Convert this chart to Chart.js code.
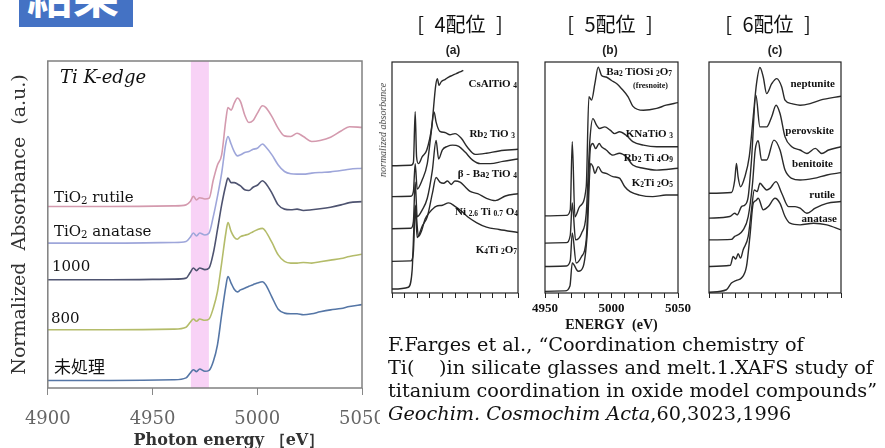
<!DOCTYPE html>
<html>
<head>
<meta charset="utf-8">
<script src="https://cdn.jsdelivr.net/npm/chart.js@4.4.1/dist/chart.umd.min.js"></script>
<style>
body { margin: 0; width: 885px; height: 448px; background: #fff; position: relative; overflow: hidden; }
.abs { position: absolute; white-space: nowrap; line-height: 1; }
.mid { transform: translateY(-50%); }
.ctr { transform: translate(-50%, -50%); }
.ser { font-family: 'DejaVu Serif', serif; }
.tms { font-family: 'Liberation Serif', serif; font-weight: bold; color: #111; }
.hdr { font-family: 'Noto Sans CJK JP', sans-serif; font-size: 20px; word-spacing: 6px; color: #111; }
.pl { font-family: 'Liberation Sans', sans-serif; font-weight: bold; font-size: 12px; color: #222; }
sub { font-size: 0.68em; vertical-align: -0.25em; line-height: 0; }
.jp { font-family: 'Noto Sans CJK JP', sans-serif; }
</style>
</head>
<body>
<div style="position:absolute;left:0;top:0;width:380px;height:448px;overflow:hidden;">
  <canvas id="main" width="400" height="450"></canvas>
</div>
<canvas id="pa" width="158" height="280" style="position:absolute;left:376px;top:55px;"></canvas>
<canvas id="pb" width="165" height="280" style="position:absolute;left:529px;top:55px;"></canvas>
<canvas id="pc" width="164" height="280" style="position:absolute;left:693px;top:55px;"></canvas>

<div style="position:absolute;left:19px;top:0;width:114px;height:27px;background:#4472c4;overflow:hidden;">
  <div class="abs jp" style="left:8px;top:-30px;font-size:46px;font-weight:bold;color:#fff;">結果</div>
</div>

<div class="abs ser" style="left:60px;top:77px;transform:translateY(-50%);font-size:18px;font-style:italic;color:#111;">Ti K-edge</div>
<div class="abs ser mid" style="left:54px;top:197px;font-size:15px;color:#111;">TiO<sub>2</sub> rutile</div>
<div class="abs ser mid" style="left:54px;top:231px;font-size:15px;color:#111;">TiO<sub>2</sub> anatase</div>
<div class="abs ser mid" style="left:52px;top:266px;font-size:15px;color:#111;">1000</div>
<div class="abs ser mid" style="left:51px;top:318px;font-size:15px;color:#111;">800</div>
<div class="abs jp mid" style="left:54px;top:365px;font-size:17px;color:#111;">未処理</div>

<div class="abs hdr ctr" style="left:460px;top:24px;">[ 4配位 ]</div>
<div class="abs hdr ctr" style="left:610px;top:24px;">[ 5配位 ]</div>
<div class="abs hdr ctr" style="left:768px;top:24px;">[ 6配位 ]</div>
<div class="abs pl ctr" style="left:453px;top:50px;">(a)</div>
<div class="abs pl ctr" style="left:610px;top:50px;">(b)</div>
<div class="abs pl ctr" style="left:775px;top:50px;">(c)</div>
<div class="abs" style="left:383px;top:130px;transform:translate(-50%,-50%) rotate(-90deg);font-family:'Liberation Serif',serif;font-style:italic;font-size:10px;color:#444;">normalized absorbance</div>

<div class="abs tms mid" style="right:368px;top:83px;font-size:11px;">CsAlTiO <sub>4</sub></div>
<div class="abs tms mid" style="right:370px;top:133px;font-size:11px;">Rb<sub>2</sub> TiO <sub>3</sub></div>
<div class="abs tms mid" style="right:368px;top:173px;font-size:11px;">β - Ba<sub>2</sub> TiO <sub>4</sub></div>
<div class="abs tms mid" style="right:367px;top:211px;font-size:11px;">Ni <sub>2.6</sub> Ti <sub>0.7</sub> O<sub>4</sub></div>
<div class="abs tms mid" style="right:368px;top:249px;font-size:11px;">K<sub>4</sub>Ti <sub>2</sub>O<sub>7</sub></div>

<div class="abs tms mid" style="right:213px;top:71px;font-size:11px;">Ba<sub>2</sub> TiOSi <sub>2</sub>O<sub>7</sub></div>
<div class="abs tms mid" style="right:217px;top:86px;font-size:8px;">(fresnoite)</div>
<div class="abs tms mid" style="right:212px;top:133px;font-size:11px;">KNaTiO <sub>3</sub></div>
<div class="abs tms mid" style="right:212px;top:157px;font-size:11px;">Rb<sub>2</sub> Ti <sub>4</sub>O<sub>9</sub></div>
<div class="abs tms mid" style="right:212px;top:182px;font-size:11px;">K<sub>2</sub>Ti <sub>2</sub>O<sub>5</sub></div>

<div class="abs tms mid" style="right:50px;top:83px;font-size:11px;">neptunite</div>
<div class="abs tms mid" style="right:51px;top:130px;font-size:11px;">perovskite</div>
<div class="abs tms mid" style="right:52px;top:163px;font-size:11px;">benitoite</div>
<div class="abs tms mid" style="right:50px;top:194px;font-size:11px;">rutile</div>
<div class="abs tms mid" style="right:48px;top:218px;font-size:11px;">anatase</div>

<div class="abs ser" style="left:388px;top:333px;font-size:19.3px;line-height:23px;color:#111;">
F.Farges et al., “Coordination chemistry of<br>
Ti(&nbsp;&nbsp;&nbsp;&nbsp;)in silicate glasses and melt.1.XAFS study of<br>
titanium coordination in oxide model compounds”<br>
<i>Geochim. Cosmochim Acta</i>,60,3023,1996
</div>

<script>
// main spectra (Ti K-edge), shared energy grid, normalized absorbance in a.u. (stacked)
const energy = [4900, 4930, 4960, 4966, 4968, 4969.5, 4971, 4972.5, 4975, 4977, 4979, 4981, 4983, 4985, 4986, 4987.5, 4989, 4990.5, 4992, 4994, 4996, 4998, 5000, 5002.5, 5004, 5007, 5010, 5013, 5016, 5019, 5022, 5026, 5030, 5035, 5040, 5044, 5050];
const rutile  = [5.55, 5.55, 5.57, 5.60, 5.70, 5.86, 5.75, 5.82, 5.78, 5.80, 6.36, 6.82, 7.13, 8.20, 8.58, 8.50, 8.71, 8.87, 8.76, 8.35, 8.12, 8.18, 8.40, 8.63, 8.58, 8.30, 7.94, 7.71, 7.69, 7.79, 7.69, 7.54, 7.57, 7.67, 7.86, 7.99, 7.97];
const anatase = [4.43, 4.43, 4.45, 4.48, 4.61, 4.74, 4.65, 4.74, 4.68, 4.74, 5.24, 5.86, 6.57, 7.48, 7.69, 7.46, 7.23, 7.10, 7.13, 7.20, 7.23, 7.30, 7.33, 7.46, 7.38, 7.13, 6.82, 6.62, 6.55, 6.54, 6.54, 6.57, 6.59, 6.61, 6.65, 6.69, 6.72];
const t1000   = [3.31, 3.31, 3.33, 3.36, 3.53, 3.67, 3.59, 3.67, 3.62, 3.67, 4.12, 4.84, 5.60, 6.21, 6.42, 6.28, 6.28, 6.24, 6.18, 6.06, 6.04, 6.14, 6.20, 6.34, 6.26, 5.96, 5.60, 5.47, 5.45, 5.47, 5.43, 5.45, 5.48, 5.53, 5.60, 5.67, 5.70];
const t800    = [1.78, 1.78, 1.80, 1.86, 2.01, 2.11, 2.04, 2.11, 2.07, 2.11, 2.44, 2.95, 3.82, 4.74, 5.06, 4.79, 4.61, 4.55, 4.63, 4.67, 4.71, 4.78, 4.84, 4.88, 4.79, 4.45, 4.07, 3.87, 3.82, 3.82, 3.84, 3.82, 3.86, 3.91, 3.96, 4.02, 4.09];
const untreated = [0.23, 0.23, 0.25, 0.31, 0.46, 0.56, 0.50, 0.58, 0.51, 0.54, 0.81, 1.32, 2.24, 3.11, 3.41, 3.21, 3.02, 2.94, 3.00, 3.05, 3.11, 3.16, 3.21, 3.25, 3.16, 2.78, 2.41, 2.29, 2.27, 2.27, 2.24, 2.27, 2.33, 2.39, 2.43, 2.49, 2.55];
const preEdgeBand = [4968.3, 4976.9];

// Farges et al. (a) 4-coordinated
const csAlE = [4950, 4965, 4967, 4968.4, 4969.5, 4971, 4974, 4977.6, 4981.5, 4984.7, 4986, 4987.3, 4989, 4992, 4995, 4998, 5001, 5004, 5006.6];
const csAlA = [5.51, 5.53, 5.65, 7.85, 5.90, 5.60, 5.90, 6.19, 7.19, 8.99, 9.28, 8.99, 9.14, 9.24, 9.35, 9.42, 9.50, 9.57, 9.64];
const rb2TiO3E = [4950, 4965, 4967, 4968.4, 4970, 4974, 4978, 4981, 4983.4, 4985, 4988, 4992, 4996, 5000, 5005, 5010, 5016, 5025, 5035, 5050];
const rb2TiO3A = [4.17, 4.19, 4.40, 5.60, 4.50, 4.90, 5.60, 6.90, 7.84, 7.40, 7.00, 6.95, 6.85, 6.90, 6.70, 6.30, 6.00, 6.05, 6.15, 6.22];
const ba2TiO4E = [4950, 4965, 4967, 4968.4, 4970, 4974, 4978, 4982, 4985, 4987, 4990, 4994, 4998, 5003, 5008, 5014, 5020, 5028, 5038, 5050];
const ba2TiO4A = [2.78, 2.80, 3.10, 4.80, 3.30, 3.60, 4.10, 5.30, 6.60, 5.80, 6.20, 6.35, 6.40, 6.35, 6.10, 5.75, 5.60, 5.60, 5.70, 5.80];
const niTiE = [4950, 4965, 4967, 4968.4, 4970, 4974, 4978, 4982, 4985, 4988, 4991, 4994, 4997, 5000, 5004, 5008, 5012, 5018, 5025, 5032, 5040, 5050];
const niTiA = [1.37, 1.39, 1.80, 3.70, 2.40, 2.90, 3.30, 4.30, 5.00, 4.80, 4.75, 4.85, 4.70, 4.85, 4.80, 4.60, 4.40, 4.30, 4.10, 4.00, 4.20, 4.30];
const k4Ti2O7E = [4950, 4963, 4966, 4968.4, 4971, 4973.7, 4976.3, 4980, 4985, 4990, 4995, 5000, 5005, 5010, 5017, 5025, 5035, 5050];
const k4Ti2O7A = [0.17, 0.25, 1.00, 3.80, 2.45, 2.73, 3.20, 3.50, 3.75, 3.80, 3.90, 3.75, 3.55, 3.30, 3.05, 2.85, 2.75, 2.62];

// (b) 5-coordinated
const fresE = [4950, 4966, 4969, 4970.5, 4972.5, 4976, 4981, 4983, 4985, 4987.5, 4990, 4992.5, 4996, 5000, 5004, 5007.5, 5012.5, 5016, 5024, 5034, 5041, 5050];
const fresA = [3.34, 3.36, 3.60, 6.55, 3.30, 3.74, 4.60, 8.50, 8.35, 9.06, 9.78, 9.42, 9.35, 9.20, 9.06, 8.85, 8.49, 8.09, 7.91, 7.99, 8.13, 8.24];
const knaE = [4950, 4966, 4969, 4970.5, 4973, 4977.5, 4981, 4983.75, 4986, 4988.75, 4991, 4995, 4999, 5002.5, 5006, 5011, 5016, 5024, 5034, 5050];
const knaA = [2.16, 2.18, 2.50, 3.90, 2.30, 2.59, 3.45, 6.62, 7.55, 7.27, 7.12, 7.19, 7.05, 6.90, 6.98, 6.83, 6.55, 6.40, 6.33, 6.33];
const rb2Ti4O9E = [4950, 4966, 4969, 4970.5, 4973.5, 4977.5, 4981, 4984.25, 4986, 4988, 4990.75, 4992.5, 4996, 5001, 5006, 5011, 5016, 5024, 5034, 5050];
const rb2Ti4O9A = [1.15, 1.17, 1.40, 2.60, 1.30, 1.58, 2.30, 6.33, 6.47, 6.25, 6.47, 6.33, 6.19, 5.97, 6.05, 5.90, 5.54, 5.40, 5.32, 5.40];
const k2Ti2O5E = [4950, 4965, 4968.75, 4970.5, 4975, 4978.75, 4981.75, 4984.25, 4986, 4987.5, 4990, 4992.5, 4996, 5001, 5006, 5010, 5014, 5021, 5031, 5041, 5050];
const k2Ti2O5A = [0.07, 0.09, 0.30, 1.30, 0.94, 1.15, 2.59, 5.61, 5.47, 5.18, 5.47, 5.25, 5.18, 5.04, 4.97, 4.60, 4.39, 4.24, 4.17, 4.24, 4.24];

// (c) 6-coordinated
const neptE = [4950, 4967, 4969.5, 4970.8, 4972, 4973.9, 4977.2, 4980.5, 4983.5, 4986, 4988.6, 4991.1, 4993.7, 4997.5, 5001.3, 5005.1, 5007.6, 5012.7, 5019, 5026.6, 5034.3, 5050];
const neptA = [4.32, 4.35, 4.89, 5.61, 5.04, 4.60, 5.04, 5.90, 7.63, 9.06, 9.76, 9.35, 8.63, 9.06, 9.28, 8.92, 8.35, 8.20, 8.13, 8.20, 8.35, 8.52];
const perovE = [4950, 4965.7, 4969.5, 4971.3, 4974.6, 4977.2, 4979.7, 4982.2, 4985.5, 4988.6, 4993.7, 4997.5, 5000.8, 5003.8, 5007.6, 5012.7, 5019, 5024.1, 5030.5, 5035.5, 5040.6, 5050];
const perovA = [3.24, 3.31, 3.45, 3.38, 3.74, 3.81, 4.17, 5.76, 8.56, 7.19, 7.19, 7.63, 8.13, 7.77, 6.76, 6.33, 6.19, 6.04, 6.26, 6.04, 6.19, 6.33];
const beniE = [4950, 4967, 4969.5, 4972, 4975.9, 4979.7, 4983, 4985, 4987.3, 4989.8, 4993.7, 4999.2, 5003.8, 5007.6, 5012.7, 5019, 5029.2, 5039.3, 5050];
const beniA = [2.30, 2.32, 2.45, 2.52, 2.73, 3.31, 4.75, 6.19, 6.59, 5.76, 5.76, 6.62, 6.19, 5.32, 4.96, 4.89, 4.96, 5.11, 5.21];
const rutE = [4950, 4966.2, 4968.3, 4970.3, 4972.1, 4973.9, 4975.9, 4979.7, 4982.2, 4984.3, 4986.5, 4988.6, 4991.1, 4993.7, 4996.2, 5000.8, 5005.1, 5010.2, 5015.2, 5019, 5024.1, 5030.5, 5039.3, 5050];
const rutA = [1.15, 1.20, 1.58, 1.47, 1.70, 1.51, 1.87, 2.45, 3.60, 4.46, 4.39, 4.75, 4.60, 4.46, 4.53, 4.82, 4.32, 3.74, 3.74, 3.67, 3.45, 3.67, 3.88, 3.96];
const anaE = [4950, 4963.2, 4967, 4970.8, 4974.6, 4978.4, 4981, 4983.5, 4985.5, 4987.3, 4991.1, 4994.9, 5000, 5003.8, 5007.6, 5011.4, 5019, 5029.2, 5039.3, 5050];
const anaA = [0.03, 0.14, 0.43, 0.55, 0.65, 1.15, 2.45, 3.88, 4.00, 4.10, 3.60, 3.74, 4.10, 3.88, 3.31, 3.02, 2.95, 3.02, 2.95, 2.73];

function series(label, xs, ys, color, width) {
    return {
        label: label,
        data: xs.map(function(x, i) { return { x: x, y: ys[i] }; }),
        borderColor: color,
        borderWidth: width,
        pointRadius: 0,
        fill: false,
        cubicInterpolationMode: 'monotone'
    };
}

// frame round the plot area and optional shaded energy band
const frameBand = {
    id: 'frameBand',
    beforeDatasetsDraw: function(chart, args, opts) {
        if (!opts.band) return;
        var a = chart.chartArea, x = chart.scales.x, ctx = chart.ctx;
        var x0 = x.getPixelForValue(opts.band[0]), x1 = x.getPixelForValue(opts.band[1]);
        ctx.save();
        ctx.fillStyle = opts.bandColor;
        ctx.fillRect(x0, a.top, x1 - x0, a.bottom - a.top);
        ctx.restore();
    },
    afterDatasetsDraw: function(chart, args, opts) {
        var a = chart.chartArea, ctx = chart.ctx;
        ctx.save();
        ctx.strokeStyle = opts.color;
        ctx.lineWidth = opts.width;
        ctx.strokeRect(a.left, a.top, a.right - a.left, a.bottom - a.top);
        ctx.restore();
    }
};
Chart.register(frameBand);

new Chart(document.getElementById('main'), {
    type: 'line',
    data: {
        datasets: [
            series('TiO2 rutile', energy, rutile, '#d49aae', 1.6),
            series('TiO2 anatase', energy, anatase, '#9ea6da', 1.6),
            series('1000', energy, t1000, '#4e5370', 1.6),
            series('800', energy, t800, '#b4bc6a', 1.6),
            series('未処理', energy, untreated, '#5576a6', 1.6)
        ]
    },
    options: {
        responsive: false,
        animation: false,
        events: [],
        layout: { padding: { left: 5, top: 61, right: 38, bottom: 0 } },
        scales: {
            x: {
                type: 'linear', min: 4900, max: 5050,
                afterFit: function(s) { s.height = 62; },
                ticks: {
                    stepSize: 50, padding: 14, maxRotation: 0, color: '#666',
                    font: { family: 'DejaVu Serif', size: 18 },
                    callback: function(v) { return String(v); }
                },
                grid: { drawOnChartArea: false, tickLength: 7, color: '#888' },
                border: { display: false },
                title: {
                    display: true, text: '\u2003\u2003\u2003Photon energy ［eV］', color: '#333',
                    font: { family: 'DejaVu Serif', size: 16, weight: 'bold' },
                    padding: { top: 0, bottom: 0 }
                }
            },
            y: {
                min: 0, max: 10,
                ticks: { display: false },
                grid: { display: false, drawTicks: false },
                border: { display: false },
                title: {
                    display: true, text: 'Normalized  Absorbance  (a.u.)', color: '#333',
                    font: { family: 'DejaVu Serif', size: 19 },
                    padding: { top: 4, bottom: 16 }
                }
            }
        },
        plugins: {
            legend: { display: false },
            tooltip: { enabled: false },
            frameBand: { band: preEdgeBand, bandColor: '#f8d2f6', color: '#808080', width: 1.5 }
        }
    }
});

function panel(id, datasets, showLabels) {
    return new Chart(document.getElementById(id), {
        type: 'line',
        data: { datasets: datasets },
        options: {
            responsive: false,
            animation: false,
            events: [],
            layout: { padding: { left: 16, top: 7, right: 16, bottom: 0 } },
            scales: {
                x: {
                    type: 'linear', min: 4950, max: 5050,
                    afterFit: function(s) { s.height = 42; },
                    ticks: {
                        stepSize: 10, autoSkip: false, maxRotation: 0, padding: 3, color: '#111',
                        font: { family: 'Liberation Serif', size: 13, weight: 'bold' },
                        callback: function(v) { return showLabels && v % 50 === 0 ? String(v) : ''; }
                    },
                    grid: { drawOnChartArea: false, tickLength: 5, color: '#222' },
                    border: { display: false },
                    title: {
                        display: showLabels, text: 'ENERGY  (eV)', color: '#111',
                        font: { family: 'Liberation Serif', size: 14, weight: 'bold' },
                        padding: { top: 0, bottom: 1 }
                    }
                },
                y: { display: false, min: 0, max: 10 }
            },
            plugins: {
                legend: { display: false },
                tooltip: { enabled: false },
                frameBand: { color: '#222', width: 1.2 }
            }
        }
    });
}

var ink = '#2a2a2a';
panel('pa', [
    series('CsAlTiO4', csAlE, csAlA, ink, 1.4),
    series('Rb2TiO3', rb2TiO3E, rb2TiO3A, ink, 1.4),
    series('β-Ba2TiO4', ba2TiO4E, ba2TiO4A, ink, 1.4),
    series('Ni2.6Ti0.7O4', niTiE, niTiA, ink, 1.4),
    series('K4Ti2O7', k4Ti2O7E, k4Ti2O7A, ink, 1.4)
], false);
panel('pb', [
    series('Ba2TiOSi2O7', fresE, fresA, ink, 1.4),
    series('KNaTiO3', knaE, knaA, ink, 1.4),
    series('Rb2Ti4O9', rb2Ti4O9E, rb2Ti4O9A, ink, 1.4),
    series('K2Ti2O5', k2Ti2O5E, k2Ti2O5A, ink, 1.4)
], true);
panel('pc', [
    series('neptunite', neptE, neptA, ink, 1.4),
    series('perovskite', perovE, perovA, ink, 1.4),
    series('benitoite', beniE, beniA, ink, 1.4),
    series('rutile', rutE, rutA, ink, 1.4),
    series('anatase', anaE, anaA, ink, 1.4)
], false);
</script>
</body>
</html>
